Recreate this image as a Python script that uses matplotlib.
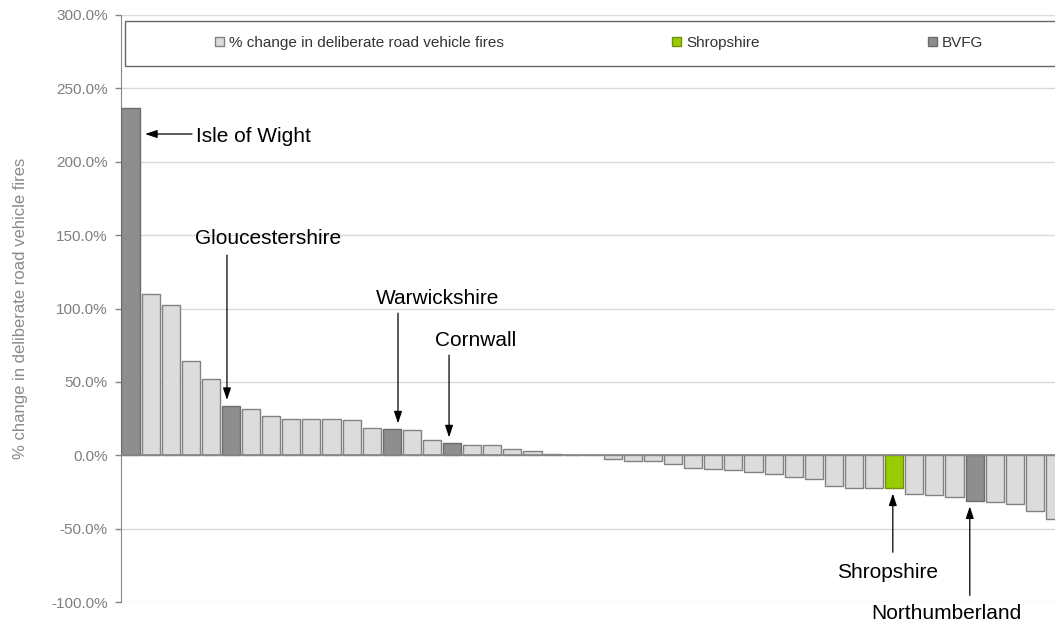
''' Deliberate road vehicle fires: % change by fire and rescue service,
    sorted high to low, with the BVFG services and Shropshire picked out.
'''
import matplotlib
matplotlib.use('Agg')
import matplotlib.pyplot as plt
from matplotlib.patches import Patch, Rectangle
from matplotlib.ticker import FuncFormatter, MultipleLocator

# % change per service, descending
pct_change = [236.5, 110.2, 102.2, 64.1, 51.8, 33.9, 31.6, 26.6, 25.0, 25.0,
              25.0, 24.3, 18.6, 17.9, 17.0, 10.5, 8.4, 7.3, 7.3, 4.1,
              3.2, 1.0, 0.0, 0.0, -2.7, -4.1, -4.1, -6.1, -8.4, -9.3,
              -10.0, -11.4, -12.5, -15.0, -15.9, -20.7, -22.3, -22.3, -22.3, -26.4,
              -27.3, -28.2, -31.1, -32.0, -33.0, -37.7, -43.2]

# where the family group and Shropshire sit in the sorted list
bvfg_names = ['Isle of Wight', 'Gloucestershire', 'Warwickshire', 'Cornwall',
              'Northumberland']
bvfg_index = [0, 5, 13, 16, 42]
shropshire_index = 38

legend_labels = ['% change in deliberate road vehicle fires', 'Shropshire', 'BVFG']
ylabel = '% change in deliberate road vehicle fires'

LIGHT, LIGHT_EDGE = '#dcdcdc', '#828282'
DARK, DARK_EDGE = '#8e8e8e', '#6c6c6c'
GREEN, GREEN_EDGE = '#99cc00', '#6f8f10'
AXIS_GREY = '#868686'
BAR_W = 0.9

plt.rcParams['font.family'] = ['Liberation Sans', 'DejaVu Sans']

fig = plt.figure(figsize=(10.55, 6.25), dpi=100)
ax = fig.add_axes([121 / 1055, 23 / 625, 934 / 1055, 587 / 625])

x = list(range(len(pct_change)))
face = [LIGHT] * len(x)
edge = [LIGHT_EDGE] * len(x)
for i in bvfg_index:
    face[i], edge[i] = DARK, DARK_EDGE
face[shropshire_index], edge[shropshire_index] = GREEN, GREEN_EDGE

ax.bar(x, pct_change, width=BAR_W, color=face, edgecolor=edge, linewidth=1.0,
       zorder=3)

ax.set_xlim(-0.473, 46.0)
ax.set_ylim(-100, 300)
ax.set_xticks([])
ax.yaxis.set_major_locator(MultipleLocator(50))
ax.yaxis.set_major_formatter(FuncFormatter(lambda v, _: '%.1f%%' % v))
ax.grid(axis='y', color='#d9d9d9', lw=1, zorder=0)
ax.axhline(0, color=AXIS_GREY, lw=1.2, zorder=4)
for s in ('top', 'right', 'bottom'):
    ax.spines[s].set_visible(False)
ax.spines['left'].set_color(AXIS_GREY)
ax.tick_params(axis='y', direction='out', length=4.5, width=1, color=AXIS_GREY,
               labelcolor='#7f7f7f', labelsize=11, pad=5)
ax.set_ylabel(ylabel, fontsize=12, color='#8a8a8a')
ax.yaxis.set_label_coords(-0.0996, 0.5)

# legend strip across the top of the plot area
ax.add_patch(Rectangle((0.0043, 265), 1.05, 31, transform=ax.get_yaxis_transform(),
                       facecolor='white', edgecolor='#666666', lw=1,
                       clip_on=False, zorder=5))
handles = [Patch(facecolor=LIGHT, edgecolor=LIGHT_EDGE),
           Patch(facecolor=GREEN, edgecolor=GREEN_EDGE),
           Patch(facecolor=DARK, edgecolor=DARK_EDGE)]
fig.legend(handles, legend_labels, loc='center left',
           bbox_to_anchor=(207 / 1055, 1 - 43 / 625), ncol=3, frameon=False,
           fontsize=11, handlelength=0.6, handleheight=0.6, handletextpad=0.33,
           columnspacing=11.0, borderpad=0, labelcolor='#333333')

# callouts: (label, bar index, text position, arrow start, horizontal arrow)
callouts = [
    ('Isle of Wight', bvfg_index[0], (3.26, 217.5), (3.06, 218.9), True),
    ('Gloucestershire', bvfg_index[1], (3.21, 148.0), (4.80, 136.4), False),
    ('Warwickshire', bvfg_index[2], (12.21, 107.0), (13.31, 96.8), False),
    ('Cornwall', bvfg_index[3], (15.15, 78.4), (15.85, 68.2), False),
    ('Shropshire', shropshire_index, (35.15, -79.8), (37.93, -66.1), False),
    ('Northumberland', bvfg_index[4], (36.84, -107.7), (41.76, -95.5), False),
]
arrow = dict(arrowstyle='-|>,head_length=0.6,head_width=0.2', color='black',
             lw=0.9, shrinkA=0, shrinkB=4, mutation_scale=12)
for name, idx, txy, start, horizontal in callouts:
    ax.text(txy[0], txy[1], name, fontsize=15, ha='left', va='center',
            color='black', zorder=6)
    if horizontal:
        tip = (idx + BAR_W / 2, start[1])
    else:
        tip = (start[0], pct_change[idx])
    ax.annotate('', xy=tip, xytext=start, arrowprops=arrow, zorder=6,
                annotation_clip=False)

fig.savefig('out.png', dpi=100)
